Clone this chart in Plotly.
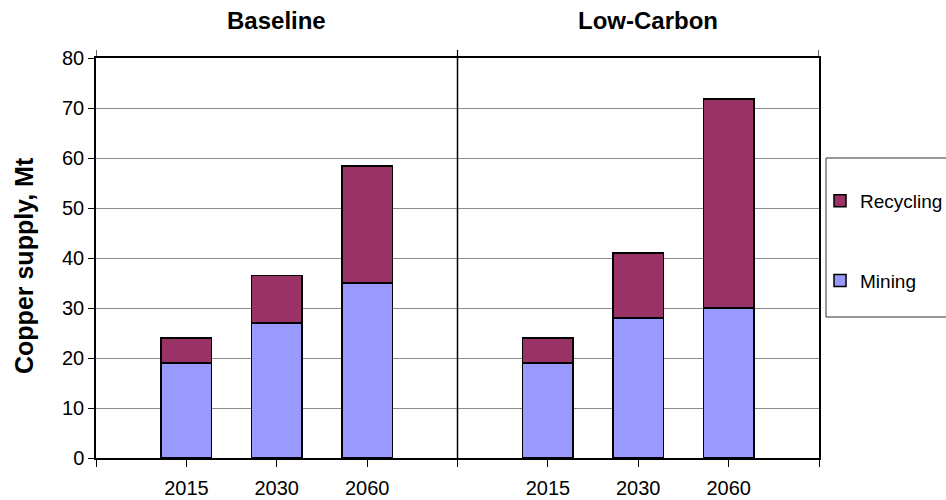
import plotly.graph_objects as go

# Copper supply (Mt) by scenario and year
years = ["2015", "2030", "2060"]
scenarios = ["Baseline", "Low-Carbon"]
baseline_mining = [19, 27, 35]
baseline_recycling = [5, 9.5, 23.4]
lowcarbon_mining = [19, 28, 30]
lowcarbon_recycling = [5, 13, 41.8]
y_ticks = [0, 10, 20, 30, 40, 50, 60, 70, 80]

FONT = "Arial, Liberation Sans, sans-serif"
MINING_COLOR = "#9999FF"
RECYCLING_COLOR = "#993366"

# Each scenario occupies 4 slots on a shared numeric x axis; bars sit on slots 1..3
slots_per_panel = len(years) + 1
x_base = [i + 1 for i in range(len(years))]
x_low = [slots_per_panel + i + 1 for i in range(len(years))]
x_all = x_base + x_low
x_max = slots_per_panel * len(scenarios)

mining = baseline_mining + lowcarbon_mining
recycling = baseline_recycling + lowcarbon_recycling

fig = go.Figure()
fig.add_trace(go.Bar(
    x=x_all, y=mining, name="Mining", legendgroup="m", legendrank=2,
    marker=dict(color=MINING_COLOR, line=dict(color="black", width=1.5)),
    width=0.56,
))
fig.add_trace(go.Bar(
    x=x_all, y=recycling, name="Recycling", legendgroup="r", legendrank=1,
    marker=dict(color=RECYCLING_COLOR, line=dict(color="black", width=1.5)),
    width=0.56,
))

tickvals = list(range(0, x_max + 1))
ticktext = []
for v in tickvals:
    pos = v % slots_per_panel
    ticktext.append(years[pos - 1] if pos != 0 else "")

fig.update_layout(
    barmode="stack",
    width=946, height=500,
    margin=dict(l=96, r=127, t=58, b=42, autoexpand=False),
    paper_bgcolor="white", plot_bgcolor="white",
    font=dict(family=FONT, size=19, color="black"),
    showlegend=True,
    legend=dict(
        x=1.0014, y=0.69, xanchor="left", yanchor="top",
        traceorder="grouped", tracegroupgap=52,
        bgcolor="rgba(0,0,0,0)", borderwidth=0,
        font=dict(family=FONT, size=19, color="black"),
    ),
    xaxis=dict(
        range=[0, x_max], tickmode="array", tickvals=tickvals, ticktext=ticktext,
        showgrid=False, zeroline=False,
        showline=True, linecolor="black", linewidth=1.5, mirror=True,
        ticks="outside", ticklen=7, tickcolor="black", tickwidth=1,
        ticklabelstandoff=4,
        tickfont=dict(family=FONT, size=20, color="black"),
    ),
    yaxis=dict(
        range=[0, 80], tickmode="array", tickvals=y_ticks,
        showgrid=True, gridcolor="#8c8c8c", gridwidth=1, zeroline=False,
        showline=True, linecolor="black", linewidth=1.5, mirror=True,
        ticks="outside", ticklen=6, tickcolor="black", tickwidth=1,
        tickfont=dict(family=FONT, size=20, color="black"),
    ),
)

# Divider between the two scenario panels
fig.add_shape(type="line", xref="x", yref="paper",
              x0=slots_per_panel, x1=slots_per_panel, y0=0, y1=1,
              line=dict(color="black", width=1.5))

# Short extensions of the panel edges above the frame
for xv in [0, slots_per_panel, x_max]:
    fig.add_shape(type="line", xref="x", yref="paper",
                  x0=xv, x1=xv, y0=1, y1=1.02,
                  line=dict(color="black", width=1.2))

# Legend frame
fig.add_shape(type="rect", xref="paper", yref="paper",
              x0=1.0097, x1=1.35, y0=0.3525, y1=0.75,
              line=dict(color="#333333", width=1))

# Scenario titles
title_x = [0.25, 0.763]
for name, tx in zip(scenarios, title_x):
    fig.add_annotation(
        text="<b>%s</b>" % name, xref="paper", yref="paper",
        x=tx, y=1.0925,
        xanchor="center", yanchor="middle", showarrow=False,
        font=dict(family=FONT, size=24, color="black"),
    )

# Y axis title
fig.add_annotation(
    text="<b>Copper supply, Mt</b>", xref="paper", yref="paper",
    x=-0.0996, y=0.4825, xanchor="center", yanchor="middle",
    textangle=-90, showarrow=False,
    font=dict(family=FONT, size=25, color="black"),
)

fig.write_html("out.html")
